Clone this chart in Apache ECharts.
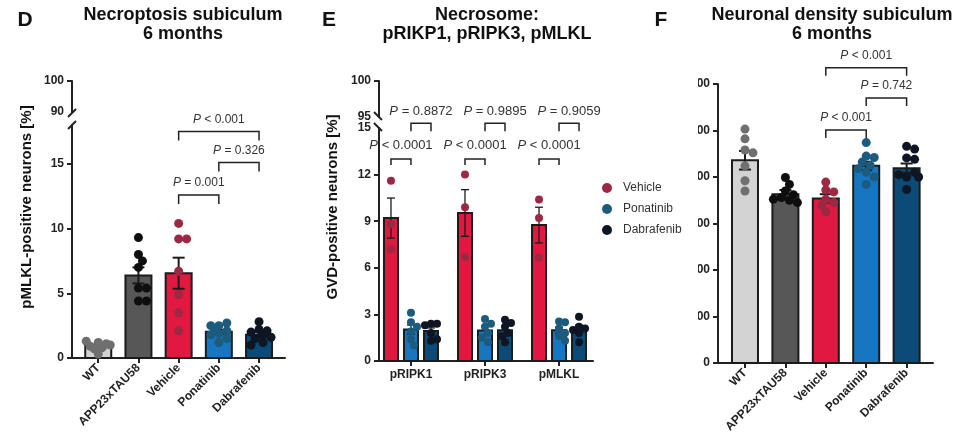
<!DOCTYPE html>
<html><head><meta charset="utf-8">
<script src="https://cdn.jsdelivr.net/npm/echarts@6/dist/echarts.min.js"></script>
<style>html,body{margin:0;padding:0;background:#fff}#c{width:960px;height:448px}</style>
</head><body><div id="c"></div>
<script>
// ===== Panel D: Necroptosis subiculum =====
const dCategories = ['WT', 'APP23xTAU58', 'Vehicle', 'Ponatinib', 'Dabrafenib'];
const dMeans = [0.93, 6.38, 6.55, 2.03, 1.80];
const dSem = [0.1, 0.62, 1.2, 0.15, 0.2];
const dWT = [1.2, 1.1, 0.9, 1.3, 0.8, 1.0, 0.3, 0.7];
const dAPP = [9.3, 8.0, 7.5, 7.0, 5.4, 5.4, 4.4, 4.4];
const dVehicle = [10.4, 9.2, 9.2, 6.7, 4.9, 3.5, 2.1];
const dPonatinib = [2.5, 2.7, 2.5, 2.1, 1.9, 1.8, 1.5, 1.2, 2.2];
const dDabrafenib = [2.8, 2.2, 2.1, 2.0, 1.8, 1.6, 1.5, 1.2, 1.0];
const dUpperTickLabels = [90, 100];
const dLowerTickLabels = [0, 5, 10, 15];
const dBracketFrom = [2, 3, 2];
const dBracketTo = [3, 4, 4];
const dBracketLevel = [12.6, 15.1, 17.5];
const dBracketText = ['= 0.001', '= 0.326', '< 0.001'];

// ===== Panel E: Necrosome =====
const eGroups = ['pRIPK1', 'pRIPK3', 'pMLKL'];
const eNames = ['Vehicle', 'Ponatinib', 'Dabrafenib'];
const eVehicleMeans = [9.2, 9.53, 8.75];
const eVehicleSem = [1.29, 1.5, 1.15];
const ePonatinibMeans = [2.02, 1.97, 1.98];
const ePonatinibSem = [0.3, 0.27, 0.2];
const eDabrafenibMeans = [1.93, 1.98, 2.03];
const eDabrafenibSem = [0.2, 0.25, 0.27];
const eVehiclePts = [[11.6, 8.8, 7.2], [12.0, 9.9, 6.7], [10.4, 9.2, 6.66]];
const ePonatinibPts = [[3.1, 2.5, 2.2, 1.9, 1.4, 1.0], [2.7, 2.4, 2.2, 1.8, 1.5, 1.2], [2.55, 2.5, 2.1, 1.8, 1.6, 1.3]];
const eDabrafenibPts = [[2.4, 2.4, 2.3, 1.8, 1.3, 1.4], [2.66, 2.45, 2.2, 1.8, 1.6, 1.2], [2.85, 2.2, 2.1, 2.0, 1.8, 1.2]];
const eUpperTickLabels = [95, 100];
const eLowerTickLabels = [0, 3, 6, 9, 12, 15];
const eLowerBracketLevel = [13.0, 13.0, 13.0];
const eLowerBracketText = ['< 0.0001', '< 0.0001', '< 0.0001'];
const eUpperBracketLevel = [15.3, 15.3, 15.3];
const eUpperBracketText = ['= 0.8872', '= 0.9895', '= 0.9059'];

// ===== Panel F: Neuronal density subiculum =====
const fCategories = ['WT', 'APP23xTAU58', 'Vehicle', 'Ponatinib', 'Dabrafenib'];
const fMeans = [436, 363, 354, 424, 419];
const fSem = [20, 9, 9, 9, 10];
const fWT = [503, 482, 458, 452, 424, 392, 370];
const fAPP = [399, 384, 370, 362, 356, 352, 350, 345];
const fVehicle = [389, 372, 368, 352, 345, 338, 325];
const fPonatinib = [474, 445, 442, 432, 425, 418, 410, 400, 384];
const fDabrafenib = [466, 460, 441, 438, 400, 410, 405, 400, 373];
const fTickLabels = [0, 100, 200, 300, 400, 500, 600];
const fBracketFrom = [2, 3, 2];
const fBracketTo = [3, 4, 4];
const fBracketLevel = [501, 570, 635];
const fBracketText = ['< 0.001', '= 0.742', '< 0.001'];

// ===== styling =====
const FONT = '"Liberation Sans", Arial, Helvetica, sans-serif';
const AX = '#222';
const groupBarColors = ['#d3d3d3', '#575757', '#e1183f', '#1677c0', '#0c4a77'];
const groupDotColors = ['#6f6f6f', '#0e0e0e', '#9d2843', '#1c5b7e', '#0d1622'];
const eBarColors = ['#e1183f', '#1677c0', '#0c4a77'];
const eDotColors = ['#9d2843', '#1c5b7e', '#0d1622'];

const chart = echarts.init(document.getElementById('c'), null, {renderer: 'canvas'});

const grids = [
  {left: 72, top: 81, width: 213, height: 31},
  {left: 72, top: 125, width: 213, height: 233},
  {left: 379, top: 81, width: 214, height: 36},
  {left: 379, top: 128, width: 214, height: 233},
  {left: 718, top: 84, width: 215, height: 279}
].map(g => Object.assign({containLabel: false, outerBoundsMode: 'none'}, g));

const yRanges = [[90, 100], [0, 18], [95, 100], [0, 15], [0, 600]];
const xRanges = [[-0.653, 4.646], [-0.653, 4.646], [-0.432, 2.459], [-0.432, 2.459], [-0.668, 4.653]];
const pxPerY = grids.map((g, i) => g.height / (yRanges[i][1] - yRanges[i][0]));

const lineStyle = {color: AX, width: 2};
const labelStyle = {fontWeight: 'bold', fontSize: 12, color: '#222', fontFamily: FONT};

function xAxisFor(i, names, rotate, show) {
  const idx = names ? names.map((_, k) => k) : [];
  return {
    type: 'value', gridIndex: i, min: xRanges[i][0], max: xRanges[i][1], show: !!show,
    axisLine: {show: true, onZero: false, lineStyle},
    axisTick: {show: true, customValues: idx, length: 5, lineStyle},
    axisLabel: Object.assign({customValues: idx, rotate: rotate, margin: 8,
      formatter: v => names[Math.round(v)]}, labelStyle),
    splitLine: {show: false}
  };
}
function yAxisFor(i, labels, ticks) {
  return {
    type: 'value', gridIndex: i, min: yRanges[i][0], max: yRanges[i][1],
    axisLine: {show: true, onZero: false, lineStyle},
    axisTick: {show: true, customValues: ticks, length: 5, lineStyle},
    axisLabel: Object.assign({customValues: labels, margin: 8}, labelStyle),
    splitLine: {show: false}
  };
}

const xAxes = [
  xAxisFor(0, null, 0, false),
  xAxisFor(1, dCategories, 45, true),
  xAxisFor(2, null, 0, false),
  xAxisFor(3, eGroups, 0, true),
  xAxisFor(4, fCategories, 45, true)
];
const yAxes = [
  yAxisFor(0, dUpperTickLabels, [100]),
  yAxisFor(1, dLowerTickLabels, [0, 5, 10, 15]),
  yAxisFor(2, eUpperTickLabels, [100]),
  yAxisFor(3, eLowerTickLabels, [0, 3, 6, 9, 12]),
  yAxisFor(4, fTickLabels, fTickLabels)
];

// compact beeswarm layout (pixel offsets), dots may overlap slightly, kept within the bar
function swarm(vals, pxPer, d, step, maxOff) {
  const placed = [], offs = [];
  const cands = [0];
  for (let k = 1; k * step <= maxOff; k++) { cands.push(k * step, -k * step); }
  vals.forEach(v => {
    const y = v * pxPer;
    let best = 0, bestDist = -1;
    for (const c of cands) {
      const md = placed.length ? Math.min(...placed.map(p => Math.hypot(p[0] - c, p[1] - y))) : Infinity;
      if (md >= d * 0.8) { best = c; bestDist = Infinity; break; }
      if (md > bestDist) { bestDist = md; best = c; }
    }
    placed.push([best, y]); offs.push(best);
  });
  return offs;
}

function barSeries(grid, means, colors, offsetPx, width, name) {
  return {
    type: 'custom', name: name, xAxisIndex: grid, yAxisIndex: grid, z: 2, clip: false,
    data: means.map((m, i) => [i, m]),
    renderItem: (params, api) => {
      const x = api.value(0), v = api.value(1);
      const p0 = api.coord([x, 0]), p1 = api.coord([x, v]);
      return {type: 'rect', shape: {x: p0[0] + offsetPx - width / 2, y: p1[1], width: width, height: p0[1] - p1[1]},
        style: {fill: colors[params.dataIndex % colors.length], stroke: '#1b1b1b', lineWidth: 2}};
    }
  };
}
function errSeries(grid, means, sems, offsetPx, cap, lw) {
  return {
    type: 'custom', xAxisIndex: grid, yAxisIndex: grid, z: 3, clip: false,
    data: means.map((m, i) => [i, m, sems[i]]),
    renderItem: (params, api) => {
      const x = api.value(0), m = api.value(1), s = api.value(2);
      const hi = api.coord([x, m + s]), lo = api.coord([x, m - s]);
      const cx = hi[0] + offsetPx;
      const st = {stroke: '#1b1b1b', lineWidth: lw};
      return {type: 'group', children: [
        {type: 'line', shape: {x1: cx, y1: hi[1], x2: cx, y2: lo[1]}, style: st},
        {type: 'line', shape: {x1: cx - cap, y1: hi[1], x2: cx + cap, y2: hi[1]}, style: st},
        {type: 'line', shape: {x1: cx - cap, y1: lo[1], x2: cx + cap, y2: lo[1]}, style: st}
      ]};
    }
  };
}
function dotSeries(grid, idx, vals, color, offsetPx, size, step, maxOff, name) {
  const offs = swarm(vals, pxPerY[grid], size, step, maxOff);
  return {
    type: 'scatter', name: name, xAxisIndex: grid, yAxisIndex: grid, z: 4,
    symbol: 'circle', symbolSize: size, itemStyle: {color: color, opacity: 1},
    silent: true,
    data: vals.map((v, k) => ({value: [idx, v], symbolOffset: [offs[k] + offsetPx, 0]}))
  };
}
function bracketSeries(grid, from, to, level, texts, fromOff, toOff, leg, gap, fs) {
  return {
    type: 'custom', xAxisIndex: grid, yAxisIndex: grid, z: 5, clip: false,
    data: level.map((l, i) => [from[i], to[i], l]),
    renderItem: (params, api) => {
      const a = api.coord([api.value(0), api.value(2)]);
      const b = api.coord([api.value(1), api.value(2)]);
      const x1 = a[0] + fromOff, x2 = b[0] + toOff, y = a[1];
      return {type: 'group', children: [
        {type: 'polyline', shape: {points: [[x1, y + leg], [x1, y], [x2, y], [x2, y + leg]]},
          style: {stroke: '#222', lineWidth: 1.5, fill: 'none'}},
        {type: 'text', x: (x1 + x2) / 2, y: y - gap,
          style: {text: '{i|P} ' + texts[params.dataIndex], align: 'center', verticalAlign: 'middle',
            fill: '#333', fontSize: fs, fontFamily: FONT,
            rich: {i: {fontStyle: 'italic', fontSize: fs, fontFamily: FONT, fill: '#333'}}}}
      ]};
    }
  };
}

const series = [];
// Panel D
series.push(barSeries(1, dMeans, groupBarColors, 0, 26));
series.push(errSeries(1, dMeans, dSem, 0, 6, 2));
[dWT, dAPP, dVehicle, dPonatinib, dDabrafenib].forEach((pts, i) =>
  series.push(dotSeries(1, i, pts, groupDotColors[i], 0, 9, 4, 12, 'D ' + dCategories[i])));
series.push(bracketSeries(1, dBracketFrom, dBracketTo, dBracketLevel, dBracketText, 0, 0, 9, 12, 12));

// Panel E
const eMeans = [eVehicleMeans, ePonatinibMeans, eDabrafenibMeans];
const eSems = [eVehicleSem, ePonatinibSem, eDabrafenibSem];
const ePts = [eVehiclePts, ePonatinibPts, eDabrafenibPts];
const eSlot = [-20, 0, 20];
eMeans.forEach((m, s) => {
  series.push(barSeries(3, m, [eBarColors[s]], eSlot[s], 14, 'E bar ' + eNames[s]));
  series.push(errSeries(3, m, eSems[s], eSlot[s], 4, 1.3));
});
ePts.forEach((groups, s) => {
  groups.forEach((pts, g) => {
    series.push(dotSeries(3, g, pts, eDotColors[s], eSlot[s], 8, 3, 7, eNames[s]));
  });
});
series.push(bracketSeries(3, [0, 1, 2], [0, 1, 2], eLowerBracketLevel, eLowerBracketText, eSlot[0], eSlot[1], 6, 14, 13));
series.push(bracketSeries(3, [0, 1, 2], [0, 1, 2], eUpperBracketLevel, eUpperBracketText, eSlot[1], eSlot[2], 8, 12, 13));

// Panel F
series.push(barSeries(4, fMeans, groupBarColors, 0, 26));
series.push(errSeries(4, fMeans, fSem, 0, 6, 2));
[fWT, fAPP, fVehicle, fPonatinib, fDabrafenib].forEach((pts, i) =>
  series.push(dotSeries(4, i, pts, groupDotColors[i], 0, 9, 4, 12, 'F ' + fCategories[i])));
series.push(bracketSeries(4, fBracketFrom, fBracketTo, fBracketLevel, fBracketText, 0, 0, 8, 12, 12));

// decorations: titles, panel letters, axis names, axis breaks
function txt(x, y, text, font, extra) {
  return Object.assign({type: 'text', x: x, y: y, z: 50,
    style: {text: text, font: font, fill: '#111', align: 'center', verticalAlign: 'top', lineHeight: 19}}, extra || {});
}
function slash(cx, cy, dir) {
  return {type: 'line', z: 50, shape: {x1: cx - 4, y1: cy + 4 * dir, x2: cx + 4, y2: cy - 4 * dir},
    style: {stroke: AX, lineWidth: 2}};
}
const titleFont = 'bold 18px ' + FONT;
const graphic = [
  txt(183, 6, 'Necroptosis subiculum\n6 months', titleFont),
  txt(487, 6, 'Necrosome:\npRIKP1, pRIPK3, pMLKL', titleFont),
  txt(832, 6, 'Neuronal density subiculum\n6 months', titleFont),
  txt(25, 11, 'D', 'bold 21px ' + FONT),
  txt(329, 11, 'E', 'bold 21px ' + FONT),
  txt(661, 11, 'F', 'bold 21px ' + FONT),
  {type: 'text', x: 27, y: 207, rotation: Math.PI / 2, z: 50,
    style: {text: 'pMLKL-positive neurons [%]', font: 'bold 15px ' + FONT, fill: '#111', align: 'center', verticalAlign: 'middle'}},
  {type: 'text', x: 333, y: 207, rotation: Math.PI / 2, z: 50,
    style: {text: 'GVD-positive neurons [%]', font: 'bold 15px ' + FONT, fill: '#111', align: 'center', verticalAlign: 'middle'}},
  slash(72, 113, 1), slash(72, 125, 1),
  slash(378, 116, -1), slash(378, 127, -1),
  // the reference panel F is cropped on its left edge
  {type: 'rect', z: 60, shape: {x: 683, y: 72, width: 15, height: 260}, style: {fill: '#fff'}}
];

chart.setOption({
  animation: false,
  backgroundColor: '#fff',
  textStyle: {fontFamily: FONT},
  grid: grids,
  xAxis: xAxes,
  yAxis: yAxes,
  legend: {
    orient: 'vertical', left: 597, top: 177, itemWidth: 10, itemHeight: 10, itemGap: 9,
    icon: 'circle', selectedMode: false, data: eNames,
    textStyle: {fontSize: 12, color: '#333', fontFamily: FONT, padding: [0, 0, 0, 6]}
  },
  graphic: graphic,
  series: series
});
</script></body></html>
